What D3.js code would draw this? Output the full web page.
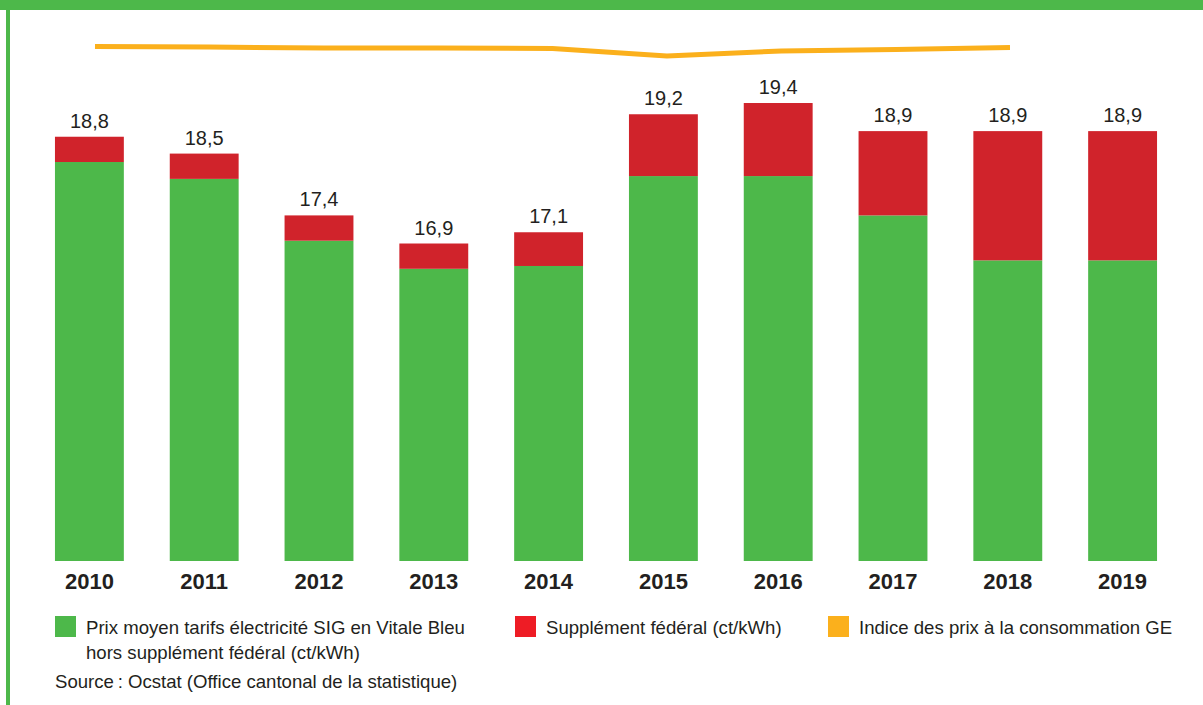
<!DOCTYPE html>
<html>
<head>
<meta charset="utf-8">
<script src="https://cdn.jsdelivr.net/npm/d3@7"></script>
<style>
  body { margin: 0; background: #fff; }
  svg { display: block; font-family: "Liberation Sans", Arial, sans-serif; }
  .val { font-size: 20px; fill: #231f20; text-anchor: middle; }
  .year { font-size: 22px; font-weight: bold; fill: #231f20; text-anchor: middle; }
  .leg { font-size: 18.6px; fill: #231f20; }
</style>
</head>
<body>
<script>
var years = ["2010","2011","2012","2013","2014","2015","2016","2017","2018","2019"];
var totals = [18.8, 18.5, 17.4, 16.9, 17.1, 19.2, 19.4, 18.9, 18.9, 18.9];
var supplement = [0.45, 0.45, 0.45, 0.45, 0.6, 1.1, 1.3, 1.5, 2.3, 2.3];
var totalLabels = ["18,8","18,5","17,4","16,9","17,1","19,2","19,4","18,9","18,9","18,9"];
var cpiYears = [2010, 2011, 2012, 2013, 2014, 2015, 2016, 2017, 2018];
var cpiValues = [100.0, 99.9, 99.7, 99.7, 99.6, 98.1, 99.1, 99.4, 99.8];

var WIDTH = 1203;
var HEIGHT = 705;
var GREEN = "#4db84a";
var RED = "#d0232b";
var ORANGE = "#fbb01c";

var svg = d3.select("body").append("svg")
  .attr("width", WIDTH)
  .attr("height", HEIGHT);

// frame
svg.append("rect").attr("x", 0).attr("y", 0).attr("width", WIDTH).attr("height", 10).attr("fill", GREEN);
svg.append("rect").attr("x", 6).attr("y", 0).attr("width", 4).attr("height", HEIGHT).attr("fill", GREEN);

var x = d3.scaleBand()
  .domain(years)
  .range([32, 1180])
  .paddingInner(0.4)
  .paddingOuter(0.2);

var y = d3.scaleLinear()
  .domain([11.25, 20])
  .range([561, 69.3]);

var rows = years.map(function (yr, i) {
  return {year: yr, total: totals[i], base: totals[i] - supplement[i], label: totalLabels[i]};
});

// green part
svg.append("g").selectAll("rect")
  .data(rows)
  .enter().append("rect")
  .attr("x", function (d) { return x(d.year); })
  .attr("width", x.bandwidth())
  .attr("y", function (d) { return y(d.base); })
  .attr("height", function (d) { return y.range()[0] - y(d.base); })
  .attr("fill", GREEN);

// red part
svg.append("g").selectAll("rect")
  .data(rows)
  .enter().append("rect")
  .attr("x", function (d) { return x(d.year); })
  .attr("width", x.bandwidth())
  .attr("y", function (d) { return y(d.total); })
  .attr("height", function (d) { return y(d.base) - y(d.total); })
  .attr("fill", RED);

svg.append("g").selectAll("text")
  .data(rows)
  .enter().append("text")
  .attr("class", "val")
  .attr("x", function (d) { return x(d.year) + x.bandwidth() / 2; })
  .attr("y", function (d) { return y(d.total) - 9; })
  .text(function (d) { return d.label; });

svg.append("g").selectAll("text")
  .data(rows)
  .enter().append("text")
  .attr("class", "year")
  .attr("x", function (d) { return x(d.year) + x.bandwidth() / 2; })
  .attr("y", 589)
  .text(function (d) { return d.year; });

// consumer price index line
var xc = d3.scaleLinear().domain([2010, 2018]).range([95, 1010]);
var yc = d3.scaleLinear().domain([98, 100]).range([56.5, 46.5]);

var cpiLine = d3.line()
  .x(function (d, i) { return xc(cpiYears[i]); })
  .y(function (d) { return yc(d); });

svg.append("path")
  .attr("d", cpiLine(cpiValues))
  .attr("fill", "none")
  .attr("stroke", ORANGE)
  .attr("stroke-width", 5);

// legend
var legend = [
  {color: GREEN, x: 55, lines: ["Prix moyen tarifs électricité SIG en Vitale Bleu", "hors supplément fédéral (ct/kWh)"]},
  {color: "#ee1c25", x: 515, lines: ["Supplément fédéral (ct/kWh)"]},
  {color: ORANGE, x: 828, lines: ["Indice des prix à la consommation GE"]}
];

var lg = svg.append("g").selectAll("g")
  .data(legend)
  .enter().append("g")
  .attr("transform", function (d) { return "translate(" + d.x + ",616)"; });

lg.append("rect")
  .attr("width", 21)
  .attr("height", 21)
  .attr("fill", function (d) { return d.color; });

lg.each(function (d) {
  var t = d3.select(this).append("text").attr("class", "leg").attr("x", 31).attr("y", 18);
  d.lines.forEach(function (line, i) {
    t.append("tspan").attr("x", 31).attr("dy", i === 0 ? 0 : 25).text(line);
  });
});

svg.append("text")
  .attr("class", "leg")
  .attr("x", 55)
  .attr("y", 688)
  .text("Source\u202F: Ocstat (Office cantonal de la statistique)");
</script>
</body>
</html>
